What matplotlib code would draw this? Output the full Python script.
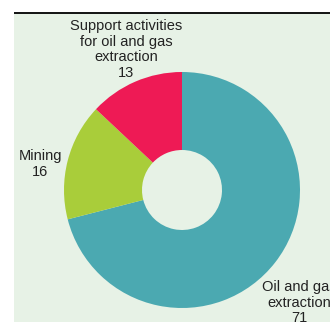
import matplotlib.pyplot as plt
from matplotlib.patches import Rectangle

plt.rcParams['font.family'] = ['Liberation Sans', 'DejaVu Sans']

# employment shares by industry
categories = ['Oil and gas\nextraction', 'Mining', 'Support activities\nfor oil and gas\nextraction']
values = [71, 16, 13]
colors = ['#4ba9b1', '#a9cd3a', '#ee1a55']

fig = plt.figure(figsize=(3.3, 3.22), dpi=100)
ax = fig.add_axes([0, 0, 1, 1])

# panel background and top rule
ax.add_patch(Rectangle((14, 0), 330, 309, facecolor='#e7f2e6', edgecolor='none', zorder=0))
ax.plot([14, 330], [309, 309], color='black', lw=1.3, zorder=1, solid_capstyle='butt')

ax.pie(values, colors=colors, startangle=90, counterclock=False,
       center=(182, 132), radius=118, frame=True,
       wedgeprops=dict(width=78, edgecolor='none'))
ax.set_xlim(0, 330)
ax.set_ylim(0, 322)
ax.set_aspect('equal')
ax.axis('off')

# label positions (x, y of the top line)
label_pos = [(299, 42), (40, 173), (126, 303)]
for name, val, (x, y) in zip(categories, values, label_pos):
    ax.text(x, y, f'{name}\n{val}', ha='center', va='top', fontsize=10.5,
            color='#222222', linespacing=1.15, zorder=3)

fig.savefig('out.png', dpi=100)
